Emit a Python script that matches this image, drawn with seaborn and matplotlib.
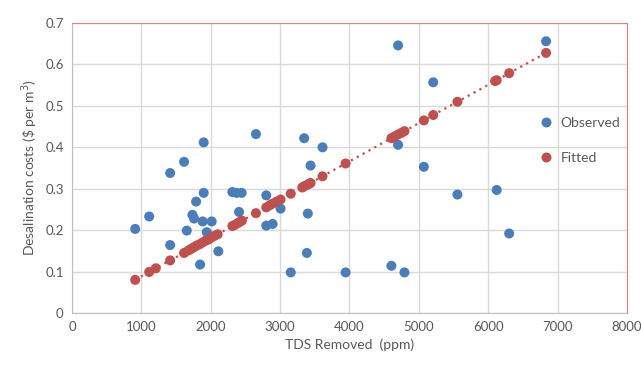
import matplotlib
matplotlib.use('Agg')
import matplotlib.pyplot as plt
import seaborn as sns
import pandas as pd

# Observed values
obs_tds = [911, 1113, 1415, 1415, 1616, 1655, 1736, 1760, 1789, 1847, 1885, 1899, 1899,
           1942, 2014, 2110, 2312, 2374, 2446, 2408, 2652, 2801, 2801, 2892, 3007, 3154,
           3347, 3386, 3400, 3439, 3612, 3945, 4605, 4701, 4701, 4793, 5073, 5208, 5557,
           6123, 6303, 6835]
obs_cost = [0.203, 0.233, 0.338, 0.164, 0.365, 0.199, 0.237, 0.228, 0.269, 0.117, 0.221,
            0.412, 0.290, 0.195, 0.221, 0.149, 0.292, 0.290, 0.290, 0.244, 0.432, 0.284,
            0.211, 0.215, 0.252, 0.098, 0.422, 0.145, 0.240, 0.356, 0.400, 0.098, 0.114,
            0.646, 0.406, 0.098, 0.353, 0.557, 0.286, 0.297, 0.192, 0.656]

# Fitted values
fit_tds = [911, 1113, 1209, 1415, 1616, 1680, 1720, 1760, 1800, 1840, 1880, 1920, 1960,
           2000, 2050, 2100, 2312, 2350, 2390, 2420, 2450, 2652, 2801, 2850, 2892, 2950,
           3007, 3154, 3320, 3347, 3386, 3420, 3440, 3612, 3945, 4605, 4650, 4701, 4750,
           4793, 5073, 5208, 5557, 6100, 6123, 6303, 6835]
fit_cost = [0.080, 0.099, 0.108, 0.127, 0.145, 0.151, 0.155, 0.159, 0.163, 0.166, 0.170,
            0.174, 0.177, 0.181, 0.186, 0.190, 0.210, 0.213, 0.217, 0.220, 0.223, 0.241,
            0.255, 0.260, 0.264, 0.269, 0.274, 0.288, 0.303, 0.306, 0.309, 0.312, 0.314,
            0.330, 0.361, 0.422, 0.426, 0.431, 0.435, 0.439, 0.465, 0.478, 0.510, 0.560,
            0.562, 0.579, 0.628]

df = pd.concat([
    pd.DataFrame({'tds': obs_tds, 'cost': obs_cost, 'series': 'Observed'}),
    pd.DataFrame({'tds': fit_tds, 'cost': fit_cost, 'series': 'Fitted'}),
], ignore_index=True)

sns.set_style('white')
plt.rcParams['font.family'] = ['Lato', 'DejaVu Sans']

blue = '#4a7ebb'
red = '#c0504d'
grey = '#595959'

fig = plt.figure(figsize=(6.41, 3.66), dpi=100)
ax = fig.add_axes([0.1123, 0.1448, 0.8657, 0.7922])

#dotted trend line through fitted values
sns.lineplot(x=fit_tds, y=fit_cost, ax=ax, color=red, linestyle=(0, (1, 2.0)),
             linewidth=1.6, legend=False, zorder=2)
sns.scatterplot(data=df, x='tds', y='cost', hue='series', ax=ax,
                palette={'Observed': blue, 'Fitted': red}, s=52,
                edgecolor='none', zorder=3)

ax.set_xlim(0, 8000)
ax.set_ylim(0, 0.7)
ax.set_xticks(range(0, 8001, 1000))
ax.set_yticks([0, 0.1, 0.2, 0.3, 0.4, 0.5, 0.6, 0.7])
ax.set_yticklabels(['0', '0.1', '0.2', '0.3', '0.4', '0.5', '0.6', '0.7'])
ax.grid(True, color='#d9d9d9', linewidth=1)
ax.set_axisbelow(True)
ax.tick_params(colors=grey, labelsize=9.5, length=0, pad=6)

for s in ['left', 'bottom']:
    ax.spines[s].set_color('#bfbfbf')
for s in ['top', 'right']:
    ax.spines[s].set_color('#d98080')

ax.set_xlabel('TDS Removed  (ppm)', color=grey, fontsize=10)
ax.set_ylabel('Desalination costs (\\$ per m$^3$)', color=grey, fontsize=10)

leg = ax.legend(loc='upper left', bbox_to_anchor=(0.82, 0.695), frameon=False,
                fontsize=10, labelspacing=1.65, handletextpad=0.0, markerscale=1.0,
                borderaxespad=0)
for t in leg.get_texts():
    t.set_color(grey)

fig.savefig('out.png', dpi=100)
